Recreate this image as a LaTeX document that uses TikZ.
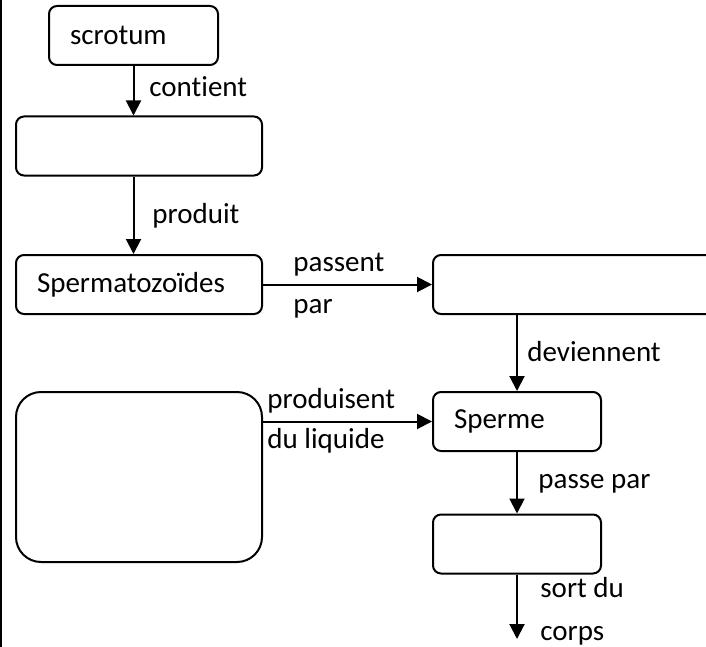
\documentclass[tikz,border=0pt]{standalone}
\usepackage{fontspec}
\setmainfont{Carlito}[Ligatures=NoCommon]
\usetikzlibrary{arrows.meta}

\begin{document}
\begin{tikzpicture}
[x=0.5pt, y=-0.5pt,
 every node/.style={inner sep=0pt, font=\fontsize{14.5}{17}\selectfont},
 box/.style={draw=black, line width=1pt, rounded corners=4pt, minimum height=29.5pt, inner xsep=10.5pt, align=left},
 lbl/.style={anchor=base west},
 flow/.style={line width=1pt, -{Triangle[length=7.5pt, width=7.5pt]}, color=black}]
\path [use as bounding box, clip] (0,0) rectangle (706,647);
\draw [line width=1pt] (1,0) -- (1,647);
\node (scrotum) [box, text width=63.5pt] at (133.5,35.5) {scrotum};
\node (testicules) [box, minimum width=123pt] at (139,146) {};
\node (spermato) [box, text width=102pt] at (139,284.5) {Spermatozoïdes};
\node (epididyme) [box, minimum width=141.5pt] at (574.5,284.5) {};
\node (sperme) [box, text width=63pt] at (517,421.5) {Sperme};
\node (glandes) [box, rounded corners=12.5pt, minimum width=123pt, minimum height=85pt] at (139,477) {};
\node (uretre) [box, minimum width=84pt] at (517,544) {};
\coordinate (sortie) at (517,639);
\node (contient) [lbl] at (149,97) {contient};
\node (produit) [lbl] at (152,223) {produit};
\node (passent) [lbl] at (293,271) {passent};
\node (par) [lbl] at (293,313) {par};
\node (deviennent) [lbl] at (527,361.5) {deviennent};
\node (produisent) [lbl] at (267,408) {produisent};
\node (liquide) [lbl] at (267,448) {du liquide};
\node (passepar) [lbl] at (538,488) {passe par};
\node (sortdu) [lbl] at (540,597) {sort du};
\node (corps) [lbl] at (540,640) {corps};
\draw [flow] (scrotum.south) to (scrotum.south |- testicules.north);
\draw [flow] (scrotum.south |- testicules.south) to (scrotum.south |- spermato.north);
\draw [flow] (spermato.east) to (epididyme.west);
\draw [flow] (sperme.north |- epididyme.south) to (sperme.north);
\draw [flow] (glandes.east |- sperme.west) to (sperme.west);
\draw [flow] (sperme.south) to (uretre.north);
\draw [flow] (uretre.south) to (sortie);
\end{tikzpicture}
\end{document}
